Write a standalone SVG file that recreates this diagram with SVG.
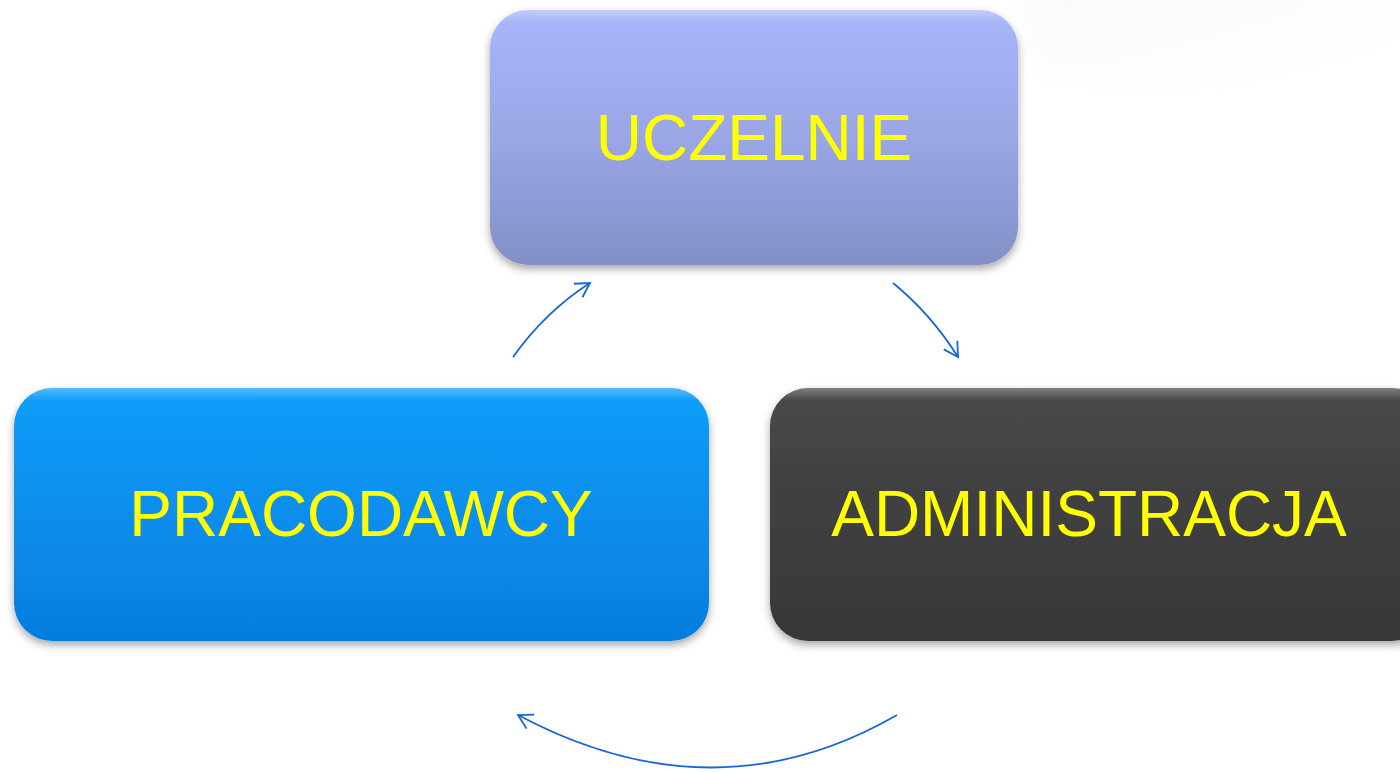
<svg xmlns="http://www.w3.org/2000/svg" width="1400" height="772" viewBox="0 0 1400 772">
  <defs>
    <linearGradient id="gU" x1="0" y1="0" x2="0" y2="1">
      <stop offset="0" stop-color="#a8b7fa"/>
      <stop offset="0.5" stop-color="#9aa6e6"/>
      <stop offset="1" stop-color="#8390c6"/>
    </linearGradient>
    <linearGradient id="gP" x1="0" y1="0" x2="0" y2="1">
      <stop offset="0" stop-color="#0a9efa"/>
      <stop offset="1" stop-color="#067ddf"/>
    </linearGradient>
    <linearGradient id="gA" x1="0" y1="0" x2="0" y2="1">
      <stop offset="0" stop-color="#484848"/>
      <stop offset="1" stop-color="#373737"/>
    </linearGradient>
    <linearGradient id="gBg" x1="0" y1="0" x2="0.6" y2="1">
      <stop offset="0" stop-color="#f4f4f4" stop-opacity="0.7"/>
      <stop offset="1" stop-color="#ffffff" stop-opacity="0"/>
    </linearGradient>
    <linearGradient id="gHi" x1="0" y1="0" x2="0" y2="1">
      <stop offset="0" stop-color="#ffffff" stop-opacity="0.3"/>
      <stop offset="0.05" stop-color="#ffffff" stop-opacity="0"/>
    </linearGradient>
    <filter id="sh" x="-10%" y="-10%" width="120%" height="130%">
      <feDropShadow dx="0" dy="4" stdDeviation="4" flood-color="#000" flood-opacity="0.35"/>
    </filter>
    <filter id="blur" x="-20%" y="-50%" width="140%" height="200%">
      <feGaussianBlur stdDeviation="18"/>
    </filter>
    <marker id="ah" viewBox="0 0 20 20" refX="18" refY="10" markerWidth="20" markerHeight="20" markerUnits="userSpaceOnUse" orient="auto">
      <polyline points="4,2 18,10 4,18" fill="none" stroke="#1766d8" stroke-width="1.8"/>
    </marker>
  </defs>
  <style>
    .lbl { font-family: "Liberation Sans", Arial, sans-serif; font-size: 64px; fill: #ffff00; text-anchor: middle; }
    .con { fill: none; stroke: #1766d8; stroke-width: 1.8; marker-end: url(#ah); }
  </style>
  <rect width="1400" height="772" fill="#ffffff"/>
  <polygon points="1030,-20 1420,-20 1420,150 1030,70" fill="url(#gBg)" filter="url(#blur)"/>

  <g id="uczelnie">
    <rect x="490" y="10" width="528" height="255" rx="38" fill="url(#gU)" filter="url(#sh)"/>
    <rect x="490" y="10" width="528" height="255" rx="38" fill="url(#gHi)"/>
    <text class="lbl" x="754" y="160">UCZELNIE</text>
  </g>

  <g id="pracodawcy">
    <rect x="14" y="388" width="695" height="253" rx="38" fill="url(#gP)" filter="url(#sh)"/>
    <rect x="14" y="388" width="695" height="253" rx="38" fill="url(#gHi)"/>
    <text class="lbl" x="361" y="536">PRACODAWCY</text>
  </g>

  <g id="administracja">
    <rect x="770" y="388" width="660" height="253" rx="38" fill="url(#gA)" filter="url(#sh)"/>
    <rect x="770" y="388" width="660" height="253" rx="38" fill="url(#gHi)"/>
    <text class="lbl" x="1089" y="536">ADMINISTRACJA</text>
  </g>

  <g id="connectors">
    <path class="con" d="M513,357 Q546,311 590,283"/>
    <path class="con" d="M893,283 Q931,314 958,357"/>
    <path class="con" d="M897,715 Q715,820 518,715"/>
  </g>
</svg>
